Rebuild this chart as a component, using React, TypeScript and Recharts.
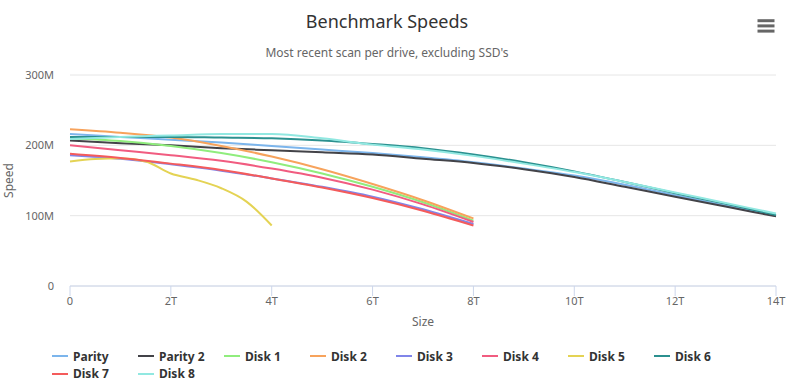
import React from 'react';
import { LineChart, Line, XAxis, YAxis, CartesianGrid, Label } from 'recharts';

// Drive size positions (in TB) at which each scan was sampled
const fullSizes = [0, 1, 2, 3, 4, 5, 6, 7, 8, 9, 10, 11, 12, 13, 14];
const diskSizes = [0, 1, 2, 3, 4, 5, 6, 7, 8];
const disk5Sizes = [0, 0.5, 1, 1.5, 2, 2.5, 3, 3.5, 4];

// Read speeds (MB/s) per drive
const parityValues = [216, 212, 208, 204, 199, 194, 189, 183, 176, 167, 157, 144, 129, 114, 100];
const parity2Values = [207, 203, 200, 196, 193, 190, 187, 181, 175, 166, 155, 141, 127, 113, 99];
const disk1Values = [210, 206, 199, 189, 176, 160, 141, 119, 93];
const disk2Values = [223, 218, 211, 199, 184, 166, 145, 122, 96];
const disk3Values = [186, 181, 173, 164, 153, 141, 127, 109, 88];
const disk4Values = [200, 193, 186, 178, 167, 154, 137, 116, 91];
const disk5Values = [177, 180.5, 181.5, 177, 160, 151, 139, 120, 86];
const disk6Values = [212, 212, 212, 211, 210, 207, 202, 196, 187, 176, 163, 148, 132, 117, 101];
const disk7Values = [188, 182, 174, 165, 153, 140, 125, 107, 86];
const disk8Values = [209, 212, 214, 216, 216, 210, 201, 194, 185, 174, 162, 148, 133, 118, 103];

// Axis ticks
const xTicks = [0, 2, 4, 6, 8, 10, 12, 14];
const yTicks = [0, 100, 200, 300];

const seriesList = [
  { name: 'Parity', color: '#7cb5ec', sizes: fullSizes, values: parityValues },
  { name: 'Parity 2', color: '#434348', sizes: fullSizes, values: parity2Values },
  { name: 'Disk 1', color: '#90ed7d', sizes: diskSizes, values: disk1Values },
  { name: 'Disk 2', color: '#f7a35c', sizes: diskSizes, values: disk2Values },
  { name: 'Disk 3', color: '#8085e9', sizes: diskSizes, values: disk3Values },
  { name: 'Disk 4', color: '#f15c80', sizes: diskSizes, values: disk4Values },
  { name: 'Disk 5', color: '#e4d354', sizes: disk5Sizes, values: disk5Values },
  { name: 'Disk 6', color: '#2b908f', sizes: fullSizes, values: disk6Values },
  { name: 'Disk 7', color: '#f45b5b', sizes: diskSizes, values: disk7Values },
  { name: 'Disk 8', color: '#91e8e1', sizes: fullSizes, values: disk8Values },
];

const FONT = '"Noto Sans", "Open Sans", sans-serif';

const toPoints = (sizes: number[], values: number[]) =>
  sizes.map((size, i) => ({ size, speed: values[i] }));

export default function App() {
  return (
    <div style={{ position: 'relative', width: 799, height: 391, fontFamily: FONT, background: '#ffffff' }}>
      <style>{`body{margin:0}`}</style>

      <div style={{ position: 'absolute', left: 0, top: 9, width: 774, textAlign: 'center', fontSize: 18, color: '#333333', lineHeight: 'normal' }}>
        Benchmark Speeds
      </div>
      <div style={{ position: 'absolute', left: 0, top: 44, width: 774, textAlign: 'center', fontSize: 12, color: '#666666', lineHeight: 'normal' }}>
        Most recent scan per drive, excluding SSD's
      </div>

      <svg style={{ position: 'absolute', left: 0, top: 0 }} width={799} height={50}>
        <g stroke="#666666" strokeWidth={3}>
          <line x1={757.5} x2={774.5} y1={20.7} y2={20.7} />
          <line x1={757.5} x2={774.5} y1={25.9} y2={25.9} />
          <line x1={757.5} x2={774.5} y1={31.1} y2={31.1} />
        </g>
      </svg>

      <div style={{ position: 'absolute', left: 0, top: 0 }}>
        <LineChart width={799} height={391} margin={{ top: 75, right: 23, bottom: 60, left: 0 }} style={{ fontFamily: FONT }}>
          <CartesianGrid horizontal vertical={false} stroke="#e6e6e6" />
          <XAxis
            dataKey="size"
            type="number"
            domain={[0, 14]}
            ticks={xTicks}
            tickFormatter={(v: number) => (v === 0 ? '0' : `${v}T`)}
            height={45}
            stroke="#ccd6eb"
            tickSize={10}
            tickMargin={1}
            tick={{ fill: '#666666', fontSize: 11 }}
            allowDuplicatedCategory={false}
          >
            <Label value="Size" position="insideBottom" offset={5.5} fill="#666666" fontSize={12} />
          </XAxis>
          <YAxis
            type="number"
            domain={[0, 300]}
            ticks={yTicks}
            tickFormatter={(v: number) => (v === 0 ? '0' : `${v}M`)}
            width={70}
            axisLine={false}
            tickLine={false}
            tickSize={0}
            tickMargin={16}
            tick={{ fill: '#666666', fontSize: 11 }}
          >
            <Label value="Speed" angle={-90} position="insideLeft" offset={9} fill="#666666" fontSize={12} style={{ textAnchor: 'middle' }} />
          </YAxis>
          {seriesList.map((s) => (
            <Line
              key={s.name}
              name={s.name}
              data={toPoints(s.sizes, s.values)}
              dataKey="speed"
              type="monotone"
              stroke={s.color}
              strokeWidth={2}
              dot={false}
              activeDot={false}
              isAnimationActive={false}
            />
          ))}
        </LineChart>
      </div>

      <div style={{ position: 'absolute', left: 52, top: 347.6, width: 700, display: 'flex', flexWrap: 'wrap' }}>
        {seriesList.map((s) => (
          <div key={s.name} style={{ width: 86, height: 17.5, display: 'flex', alignItems: 'center' }}>
            <div style={{ width: 16, height: 2, background: s.color, marginRight: 5 }} />
            <span style={{ fontSize: 12, fontWeight: 700, color: '#333333', lineHeight: '17.5px', whiteSpace: 'nowrap' }}>{s.name}</span>
          </div>
        ))}
      </div>
    </div>
  );
}
